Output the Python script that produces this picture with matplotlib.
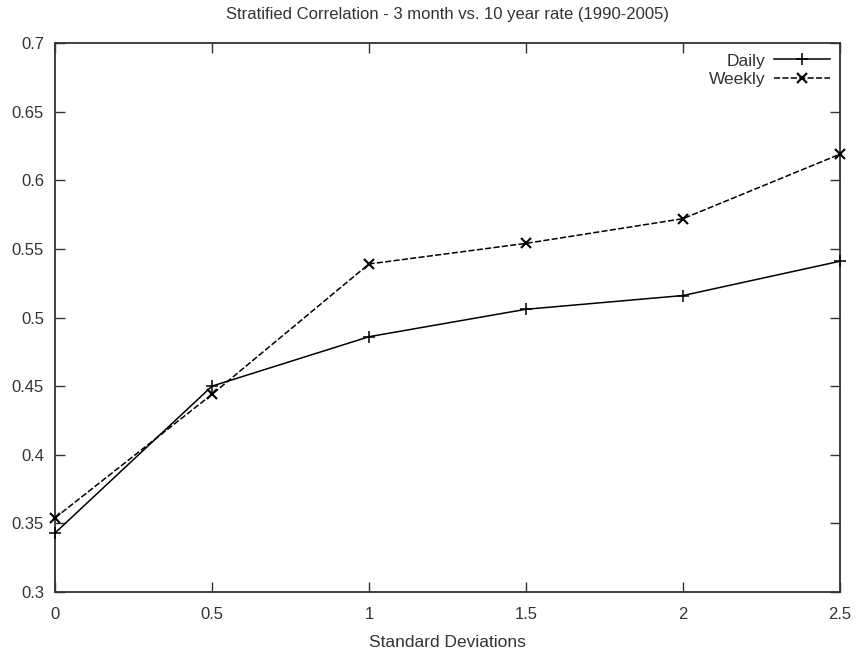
import numpy as np
import matplotlib
matplotlib.use('Agg')
import matplotlib.pyplot as plt

plt.rcParams['font.family'] = ['Liberation Sans', 'DejaVu Sans']

# data
std_devs = [0, 0.5, 1, 1.5, 2, 2.5]
daily = [0.343, 0.450, 0.486, 0.506, 0.516, 0.541]
weekly = [0.354, 0.444, 0.539, 0.554, 0.572, 0.619]
x_ticks = [0, 0.5, 1, 1.5, 2, 2.5]
y_ticks = [0.3, 0.35, 0.4, 0.45, 0.5, 0.55, 0.6, 0.65, 0.7]

fig = plt.figure(figsize=(8.56, 6.51), dpi=100)
ax = fig.add_axes([55/856, 59/651, 785/856, 549/651])

ax.plot(std_devs, daily, color='black', lw=1.1, marker='+', ms=9, mew=1.1,
        label='Daily', clip_on=False, zorder=3)
ax.plot(std_devs, weekly, color='black', lw=1.1, marker='x', ms=7, mew=1.5,
        dashes=(4, 1.5), label='Weekly', clip_on=False, zorder=3)

ax.set_xlim(0, 2.5)
ax.set_ylim(0.3, 0.7)
ax.set_xticks(x_ticks)
ax.set_xticklabels(['0', '0.5', '1', '1.5', '2', '2.5'])
ax.set_yticks(y_ticks)
ax.set_yticklabels(['0.3', '0.35', '0.4', '0.45', '0.5', '0.55', '0.6', '0.65', '0.7'])
ax.tick_params(direction='in', length=7, width=1, top=True, right=True,
               labelsize=12, colors='#333333', pad=8)
ax.tick_params(axis='x', pad=11)
for s in ax.spines.values():
    s.set_linewidth(1.3)
    s.set_color('#333333')

ax.set_title('Stratified Correlation - 3 month vs. 10 year rate (1990-2005)',
             fontsize=12, color='#333333', pad=17)
ax.set_xlabel('Standard Deviations', fontsize=12.5, color='#333333', labelpad=9)

ax.legend(loc='upper right', frameon=False, markerfirst=False, fontsize=12.5,
          handlelength=3.2, handletextpad=0.5, labelspacing=0.2,
          borderaxespad=0.4, borderpad=0.2, labelcolor='#333333')

fig.savefig('out.png', dpi=100)
